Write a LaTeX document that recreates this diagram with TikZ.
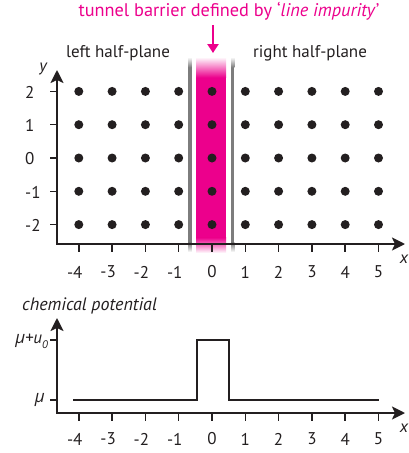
\documentclass[tikz,border=0pt]{standalone}
\usepackage{fontspec}
\setmainfont{PT Sans}
\newfontfamily\grk{Open Sans}
\usetikzlibrary{arrows.meta}
\definecolor{mag}{RGB}{236,0,140}
\definecolor{ink}{RGB}{35,31,32}
\definecolor{bargray}{RGB}{125,125,125}
\tikzset{
  axis/.style={line width=2pt, draw=ink, line join=miter},
  tickmark/.style={line width=1.5pt, draw=ink},
  lbl/.style={font=\fontsize{17}{20}\selectfont, text=ink, inner sep=0pt},
  ilbl/.style={font=\fontsize{17}{20}\selectfont\itshape, text=ink, inner sep=0pt},
  tipa/.tip={Stealth[length=13pt,width=13pt,inset=3pt]},
  pot/.style={line width=1.8pt, draw=ink, line join=miter},
}
\begin{document}
\begin{tikzpicture}[x=1pt,y=-1pt]
\useasboundingbox (0,0) rectangle (409,453);
% barrier
\fill[mag] (196,77) rectangle (226,238);
\shade[top color=white, bottom color=mag] (196,57) rectangle (226,77.5);
\shade[top color=mag, bottom color=white] (196,237.5) rectangle (226,253);
\foreach \gx in {190,232.7}{
  \fill[bargray] ({\gx-1.6},67) rectangle ({\gx+1.6},243);
  \shade[top color=white,bottom color=bargray] ({\gx-1.6},57) rectangle ({\gx+1.6},67.3);
  \shade[top color=bargray,bottom color=white] ({\gx-1.6},242.7) rectangle ({\gx+1.6},252);
}
% dots
\foreach \i in {-4,...,5}
  \foreach \j in {-2,...,2}
    \fill[ink] ({212+33.3*\i},{158-33.3*\j}) circle[radius=4.5pt];
% upper axes
\coordinate (ytop) at (57,70);
\coordinate (o1) at (57,244);
\coordinate (xend1) at (405,244);
\draw[axis, tipa-tipa] (ytop) -- (o1) -- (xend1);
\foreach \i in {-4,...,5}
  \draw[tickmark] ({212+33.3*\i},244) -- ++(0,8);
\foreach \i in {-4,...,-1}
  \node[lbl] (xl\i) at ({212+33.3*\i-4},272) {\i};
\foreach \i in {0,...,5}
  \node[lbl] (xl\i) at ({212+33.3*\i},272) {\i};
\foreach \j in {-2,...,2}{
  \draw[tickmark] (50,{158-33.3*\j}) -- (57,{158-33.3*\j});
  \node[lbl, anchor=west] (yl\j) at (25,{158-33.3*\j+1}) {\j};
}
\node[ilbl] (ylab) at (43,69) {y};
\node[ilbl] (xlab1) at (404,259) {x};
% texts
\node[lbl] (left) at (118,53) {left half-plane};
\node[lbl] (right) at (310,53) {right half-plane};
\node[lbl, text=mag, font=\fontsize{18.3}{20}\selectfont] (title) at (229,11) {tunnel barrier defined by ‘\textit{line impurity}’};
\coordinate (arrtop) at (213,25);
\coordinate (arrbot) at (213,53);
\draw[mag, line width=2.5pt, -{Triangle[length=9pt,width=11pt]}] (arrtop) -- (arrbot);
% lower plot
\node[ilbl, anchor=west, font=\fontsize{18}{20}\selectfont\itshape] (chem) at (22,306) {chemical potential};
\coordinate (ytop2) at (57,318);
\coordinate (o2) at (57,413);
\coordinate (xend2) at (405,413);
\draw[axis, tipa-tipa] (ytop2) -- (o2) -- (xend2);
\foreach \i in {-4,...,5}
  \draw[tickmark] ({212+33.3*\i},413) -- ++(0,8);
\foreach \i in {-4,...,-1}
  \node[lbl] (bl\i) at ({212+33.3*\i-4},439) {\i};
\foreach \i in {0,...,5}
  \node[lbl] (bl\i) at ({212+33.3*\i},439) {\i};
\node[ilbl] (xlab2) at (404,428) {x};
\draw[tickmark] (50,400) -- (57,400);
\draw[tickmark] (50,340) -- (57,340);
\node[ilbl, anchor=east] (mu) at (45,400) {\grk μ};
\node[ilbl, anchor=east] (muu) at (48,341) {{\grk μ}+u\raisebox{-0.3em}{\fontsize{11}{11}\selectfont 0}};
\coordinate (p0) at (73,400);
\coordinate (p1) at (197,400);
\coordinate (p2) at (197,340);
\coordinate (p3) at (229,340);
\coordinate (p4) at (229,400);
\coordinate (p5) at (379,400);
\draw[pot] (p0) -- (p1) -- (p2) -- (p3) -- (p4) -- (p5);
\end{tikzpicture}
\end{document}
